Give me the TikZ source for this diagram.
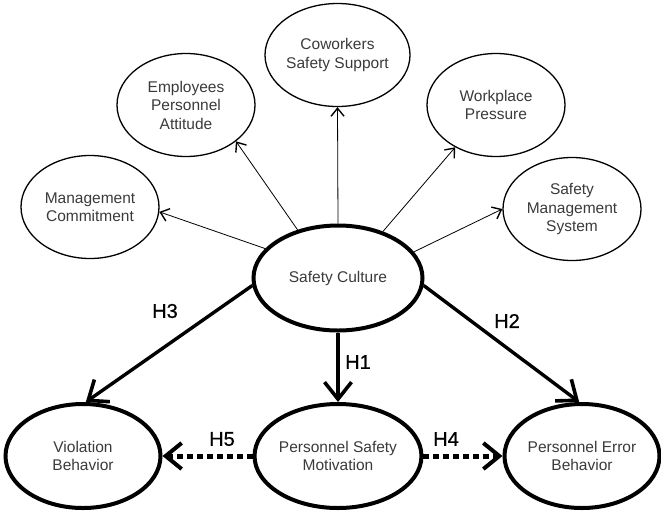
\documentclass[tikz,border=0pt]{standalone}
\usepackage{fontspec}
\setmainfont{Liberation Sans}
\newfontfamily\hfont[BoldFont={Liberation Sans},BoldFeatures={FakeBold=0.8}]{Liberation Sans}
\usetikzlibrary{shapes.geometric,arrows.meta}
\definecolor{txtgray}{HTML}{3A3A3A}
\begin{document}
\begin{tikzpicture}[x=1pt,y=-1pt,
  thinell/.style={ellipse,draw,line width=1.3pt,inner sep=0pt,minimum width=138pt,minimum height=103pt,align=center,text=txtgray,font=\fontsize{15.5}{18.5}\selectfont},
  thickell/.style={thinell,line width=4pt,minimum width=155pt,minimum height=104pt},
  thinarr/.style={line width=0.8pt,-{Straight Barb[length=8pt,width=13pt,line width=1.4pt]}},
  thickarr/.style={line width=3.4pt,-{Straight Barb[length=17pt,width=27pt,line width=3.6pt]}},
  dotarr/.style={line width=5pt,dash pattern=on 6pt off 4pt,-{Straight Barb[length=16pt,width=26pt,line width=4pt]}},
  hlab/.style={font=\hfont\bfseries\fontsize{20}{22}\selectfont,text=black,inner sep=0pt}
]
\useasboundingbox (0,0) rectangle (661,515);
\node[thinell] (cw) at (337.5,55) {Coworkers\\Safety Support};
\node[thinell] (emp) at (186,105) {Employees\\Personnel\\Attitude};
\node[thinell] (wp) at (496,105) {Workplace\\Pressure};
\node[thinell] (mc) at (90,207) {Management\\Commitment};
\node[thinell] (sms) at (572,209) {Safety\\Management\\System};
\node[thickell,minimum width=169pt,minimum height=105pt] (sc) at (338,278) {Safety Culture};
\node[thickell] (vb) at (83,456) {Violation\\Behavior};
\node[thickell,minimum width=160pt] (psm) at (338,456) {Personnel Safety\\Motivation};
\node[thickell] (peb) at (582,456) {Personnel Error\\Behavior};

\draw[thinarr] (sc.158) -- (mc.-4);
\draw[thinarr] (sc.130) -- (emp.-36);
\draw[thinarr] (sc.north) -- (cw.south);
\draw[thinarr] (sc.46) -- (wp.-134);
\draw[thinarr] (sc.19) -- (sms.180);

\draw[thickarr] (sc.185) -- (vb.87);
\draw[thickarr] (sc.south) -- (psm.north);
\draw[thickarr] (sc.-5) -- (peb.93);
\draw[dotarr] (psm.west) -- (vb.east);
\draw[dotarr] (psm.east) -- (peb.west);

\node[hlab] (h3) at (165,311) {H3};
\node[hlab] (h1) at (358,362) {H1};
\node[hlab] (h2) at (507,321) {H2};
\node[hlab] (h5) at (222,439) {H5};
\node[hlab] (h4) at (446,439) {H4};
\end{tikzpicture}
\end{document}
